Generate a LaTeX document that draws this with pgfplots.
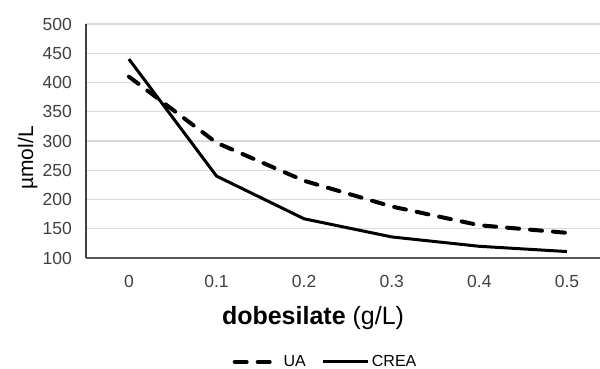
\documentclass[border=0pt]{standalone}
\usepackage{fontspec}
\setmainfont{Liberation Sans}
\usepackage{pgfplots}
\pgfplotsset{compat=1.18}
\definecolor{gridc}{HTML}{D9D9D9}
\definecolor{axc}{HTML}{595959}
\definecolor{tickc}{HTML}{404040}
\begin{document}
\begin{tikzpicture}[x=1pt,y=1pt]
\begin{axis}[
  at={(86pt,111pt)}, anchor=south west,
  scale only axis, width=514pt, height=234pt,
  xmin=-0.49, xmax=5.377, ymin=100, ymax=500,
  xtick={0,1,2,3,4,5}, xticklabels={0,0.1,0.2,0.3,0.4,0.5},
  ytick={100,150,...,500},
  ymajorgrids, grid style={gridc, line width=1.3pt},
  major tick length=0pt,
  axis x line*=bottom, axis y line*=left,
  x axis line style={axc, line width=1.3pt, -},
  y axis line style={tickc, line width=1.1pt, -},
  tick label style={font=\fontsize{17.5}{20}\selectfont, text=tickc},
  /pgf/number format/assume math mode=true,
  xticklabel style={anchor=base, yshift=-30pt},
  yticklabel style={anchor=east, inner sep=0pt, xshift=-14pt},
  legend style={draw=none, fill=none, at={(axis description cs:0.466,-0.444)}, anchor=center, legend columns=2, font=\fontsize{16}{18}\selectfont, text=black, /tikz/every even column/.append style={column sep=14pt}},
  legend image code/.code={\draw[#1] (0pt,0pt) -- (45pt,0pt);},
]
\addplot[black, line width=4pt, dash pattern=on 12pt off 11pt, line cap=round] coordinates {(0,410) (1,297) (2,232) (3,188) (4,156) (5,143)};
\addlegendentry{UA}
\addplot[black, line width=3pt] coordinates {(0,440) (1,240) (2,167) (3,136) (4,120) (5,111)};
\addlegendentry{CREA}
\end{axis}
\node[rotate=90, anchor=base, font=\fontsize{21}{24}\selectfont] at (33,211) {µmol/L};
\node[anchor=base, font=\fontsize{25}{30}\selectfont] at (313,44) {\textbf{dobesilate} (g/L)};
\pgfresetboundingbox
\path (0,0) rectangle (600,369);
\end{tikzpicture}
\end{document}
